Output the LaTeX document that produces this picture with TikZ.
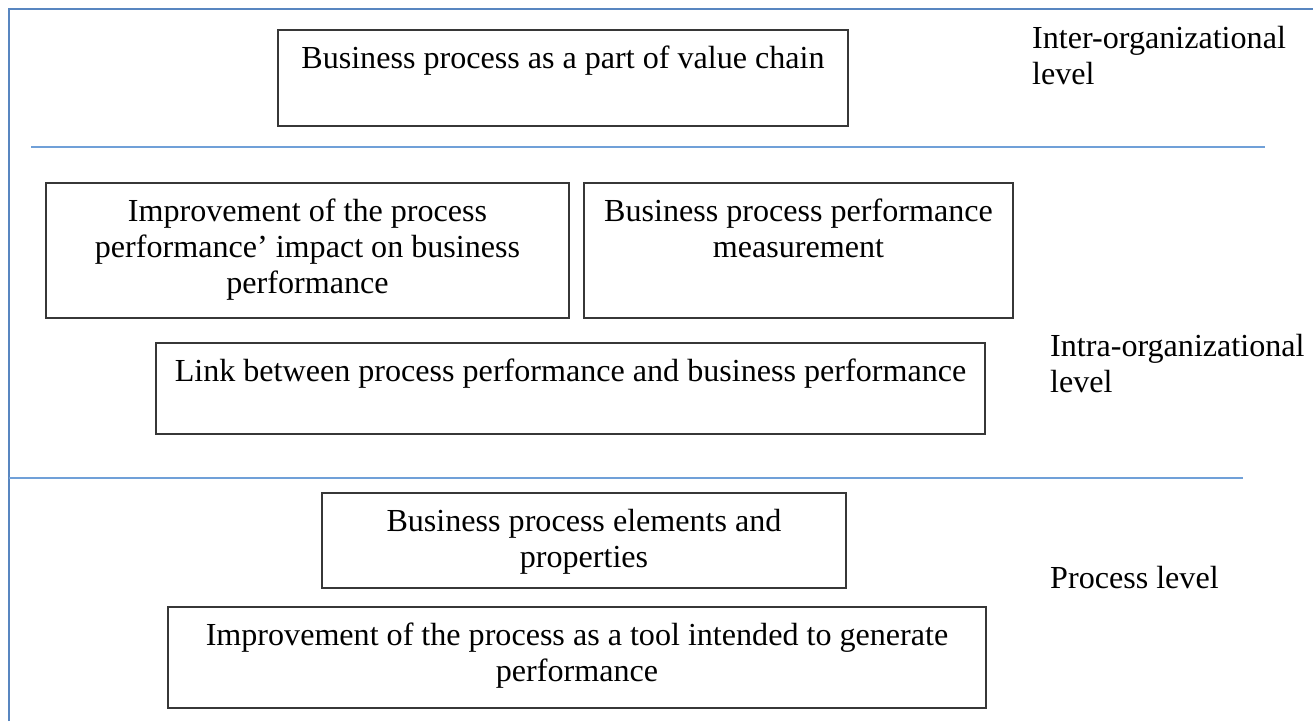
\documentclass[tikz,border=0pt]{standalone}
\usepackage{fontspec}
\setmainfont{Liberation Serif}
\usepackage{xcolor}
\usepackage{tikz}
\usetikzlibrary{calc}

\definecolor{framecol}{RGB}{88,134,192}
\definecolor{sepcol}{RGB}{112,160,216}
\definecolor{boxcol}{RGB}{55,55,55}

\newcommand{\boxtext}[3]{\parbox[c][#2pt][t]{#1pt}{\centering\rule{0pt}{38.5pt}#3}}

\begin{document}
\begin{tikzpicture}[x=1pt,y=-1pt,
  every node/.style={font=\fontsize{32.1}{36.2}\selectfont},
  box/.style={draw=boxcol, line width=2pt, inner sep=0pt, anchor=north west},
  levtxt/.style={inner sep=0pt, anchor=north west, align=left}]
\useasboundingbox (0,0) rectangle (1313,721);
\draw[color=framecol, line width=2pt] (9,721) -- (9,9) -- (1313,9);
\draw[color=sepcol, line width=1.8pt] (31,147) -- (1265,147);
\draw[color=sepcol, line width=1.8pt] (9,478) -- (1243,478);
\node[box] (chain) at (277,29) {\boxtext{570}{96}{Business process as a part of value chain}};
\node[box] (impact) at (45,182) {\boxtext{523}{135}{Improvement of the process\\performance’ impact on business\\performance}};
\node[box] (measure) at (583,182) {\boxtext{429}{135}{Business process performance\\measurement}};
\node[box] (link) at (155,342) {\boxtext{829}{91}{Link between process performance and business performance}};
\node[box] (elements) at (321,492) {\boxtext{524}{95}{Business process elements and\\properties}};
\node[box] (tool) at (167,606) {\boxtext{818}{101}{Improvement of the process as a tool intended to generate\\performance}};
\node[levtxt] (inter) at (1032,18) {\rule{0pt}{30pt}Inter-organizational\\level};
\node[levtxt] (intra) at (1050,326) {\rule{0pt}{30pt}Intra-organizational\\level};
\node[levtxt] (proc) at (1050,558) {\rule{0pt}{30pt}Process level};
\end{tikzpicture}
\end{document}
